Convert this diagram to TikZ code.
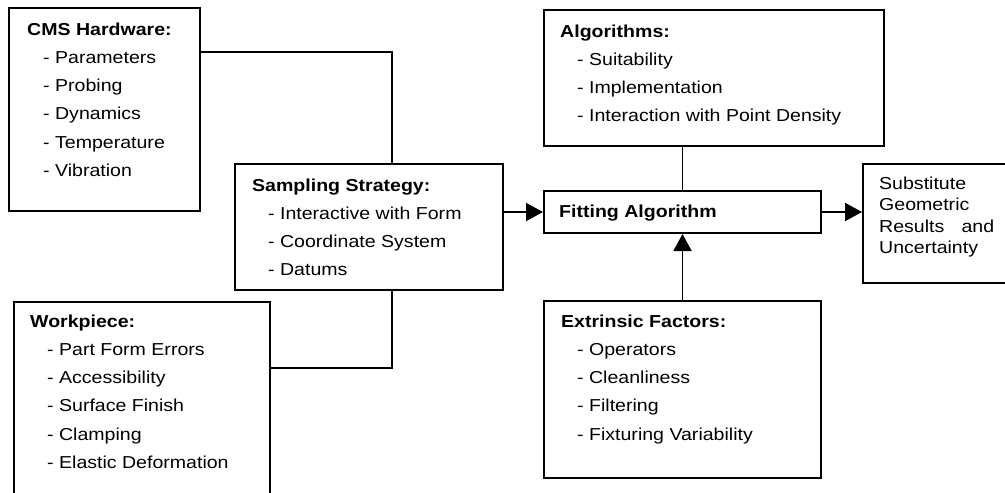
\documentclass[tikz,border=0pt]{standalone}
\usepackage{fontspec}
\setmainfont[FakeStretch=1.13]{Liberation Sans}
\usetikzlibrary{arrows.meta}
\begin{document}
\begin{tikzpicture}[x=1pt,y=-1pt,
  box/.style={draw, line width=2pt, inner sep=0pt, anchor=north west},
  txt/.style={anchor=base west, inner sep=0pt, font=\fontsize{17.3}{28.3}\selectfont},
  conn/.style={line width=1.9pt},
  arr/.style={line width=1.9pt, -{Triangle[length=17pt,width=18pt]}}]
\clip (0,0) rectangle (1005,493);
\useasboundingbox (0,0) rectangle (1005,493);
% boxes
\node[box, minimum width=191pt, minimum height=203pt] (cms) at (8,7) {};
\node[box, minimum width=268pt, minimum height=126pt] (samp) at (234,163) {};
\node[box, minimum width=256pt, minimum height=230pt] (work) at (13,301) {};
\node[box, minimum width=340pt, minimum height=136pt] (alg) at (543,9) {};
\node[box, minimum width=277pt, minimum height=42pt] (fit) at (543,190) {};
\node[box, minimum width=170pt, minimum height=119pt] (sub) at (862,163) {};
\node[box, minimum width=277pt, minimum height=177pt] (ext) at (543,300) {};
% texts
\node[txt] (cmst) at (27,35) {\begin{tabular}[t]{@{}l@{}}\textbf{CMS Hardware:}\\
 \hspace{16pt}- Parameters\\ \hspace{16pt}- Probing\\ \hspace{16pt}- Dynamics\\
 \hspace{16pt}- Temperature\\ \hspace{16pt}- Vibration\end{tabular}};
\node[txt] (sampt) at (252,191) {\begin{tabular}[t]{@{}l@{}}\textbf{Sampling Strategy:}\\
 \hspace{16pt}- Interactive with Form\\ \hspace{16pt}- Coordinate System\\ \hspace{16pt}- Datums\end{tabular}};
\node[txt] (workt) at (30,327) {\begin{tabular}[t]{@{}l@{}}\textbf{Workpiece:}\\
 \hspace{17pt}- Part Form Errors\\ \hspace{17pt}- Accessibility\\ \hspace{17pt}- Surface Finish\\
 \hspace{17pt}- Clamping\\ \hspace{17pt}- Elastic Deformation\end{tabular}};
\node[txt] (algt) at (560,37) {\begin{tabular}[t]{@{}l@{}}\textbf{Algorithms:}\\
 \hspace{17pt}- Suitability\\ \hspace{17pt}- Implementation\\ \hspace{17pt}- Interaction with Point Density\end{tabular}};
\node[txt] (fitt) at (559,217) {\textbf{Fitting Algorithm}};
\node[txt, font=\fontsize{17.3}{21.5}\selectfont] (subt) at (879,189) {\begin{tabular}[t]{@{}l@{}}Substitute\\ Geometric\\
 \makebox[115pt][s]{Results and}\\ Uncertainty\end{tabular}};
\node[txt] (extt) at (561,327) {\begin{tabular}[t]{@{}l@{}}\textbf{Extrinsic Factors:}\\
 \hspace{16pt}- Operators\\ \hspace{16pt}- Cleanliness\\ \hspace{16pt}- Filtering\\ \hspace{16pt}- Fixturing Variability\end{tabular}};
% connectors
\coordinate (c1) at (392,52);
\coordinate (c2) at (392,368);
\draw[conn] (cms.east |- c1) -- (c1) -- (c1 |- samp.north);
\draw[conn] (work.east |- c2) -- (c2) -- (c2 |- samp.south);
\draw[arr] (samp.east |- fit.west) -- (fit.west);
\draw[arr] (fit.east) -- (sub.west |- fit.east);
\draw[conn] (fit.north |- alg.south) -- (fit.north);
\draw[arr] (ext.north) -- (fit.south);
\end{tikzpicture}
\end{document}
